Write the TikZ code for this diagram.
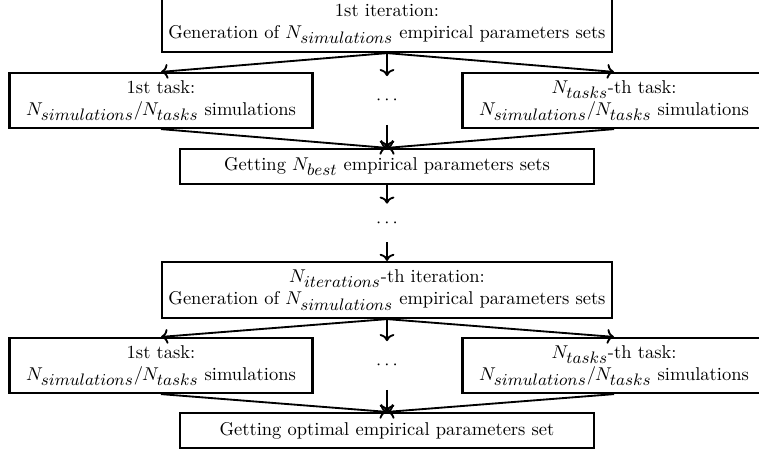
\documentclass[tikz,border=0pt]{standalone}
\usepackage{tikz}
\usetikzlibrary{arrows.meta, positioning, calc}
\DeclareMathSizes{10}{10}{8.6}{7}

\begin{document}
\begin{tikzpicture}[x=0.54pt, y=-0.54pt,
    stepbox/.style={draw, line width=1.2pt, align=center, inner sep=0pt,
      font=\fontsize{10}{12}\selectfont},
    wide/.style={stepbox, minimum width=0.54pt*450, minimum height=0.54pt*56},
    task/.style={stepbox, minimum width=0.54pt*303, minimum height=0.54pt*55},
    flat/.style={stepbox, minimum width=0.54pt*414, minimum height=0.54pt*35},
    gap/.style={inner sep=0pt, minimum width=0.54pt*20},
    flow/.style={->, line width=1pt}]
  \useasboundingbox (0,0) rectangle (759,455);
  \clip (0,0) rectangle (759,455);

  % 1st iteration
  \node[wide] (iterA) at (387,24) {1st iteration:\\Generation of $N_{simulations}$ empirical parameters sets};

  % tasks of 1st iteration
  \node[task] (taskA1) at (161,100.5) {1st task:\\$N_{simulations}/N_{tasks}$ simulations};
  \node[gap, minimum height=0.54pt*48] (dotsA) at (387,100.5) {$\cdots$};
  \node[task] (taskAN) at (614,100.5) {$N_{tasks}$-th task:\\$N_{simulations}/N_{tasks}$ simulations};

  % best sets
  \node[flat] (best) at (387,166.5) {Getting $N_{best}$ empirical parameters sets};

  % skipped iterations
  \node[gap, minimum height=0.54pt*38] (dotsB) at (387,223) {$\cdots$};

  % last iteration
  \node[wide] (iterN) at (387,290) {$N_{iterations}$-th iteration:\\Generation of $N_{simulations}$ empirical parameters sets};

  % tasks of last iteration
  \node[task] (taskN1) at (161,365.5) {1st task:\\$N_{simulations}/N_{tasks}$ simulations};
  \node[gap, minimum height=0.54pt*48] (dotsC) at (387,365.5) {$\cdots$};
  \node[task] (taskNN) at (614,365.5) {$N_{tasks}$-th task:\\$N_{simulations}/N_{tasks}$ simulations};

  % optimal set
  \node[flat] (opt) at (387,430.5) {Getting optimal empirical parameters set};

  % arrows
  \draw[flow] (iterA.south) -- (taskA1.north);
  \draw[flow] (iterA.south) -- (dotsA.north);
  \draw[flow] (iterA.south) -- (taskAN.north);
  \draw[flow] (taskA1.south) -- (best.north);
  \draw[flow] (dotsA.south) -- (best.north);
  \draw[flow] (taskAN.south) -- (best.north);
  \draw[flow] (best.south) -- (dotsB.north);
  \draw[flow] (dotsB.south) -- (iterN.north);
  \draw[flow] (iterN.south) -- (taskN1.north);
  \draw[flow] (iterN.south) -- (dotsC.north);
  \draw[flow] (iterN.south) -- (taskNN.north);
  \draw[flow] (taskN1.south) -- (opt.north);
  \draw[flow] (dotsC.south) -- (opt.north);
  \draw[flow] (taskNN.south) -- (opt.north);
\end{tikzpicture}
\end{document}
